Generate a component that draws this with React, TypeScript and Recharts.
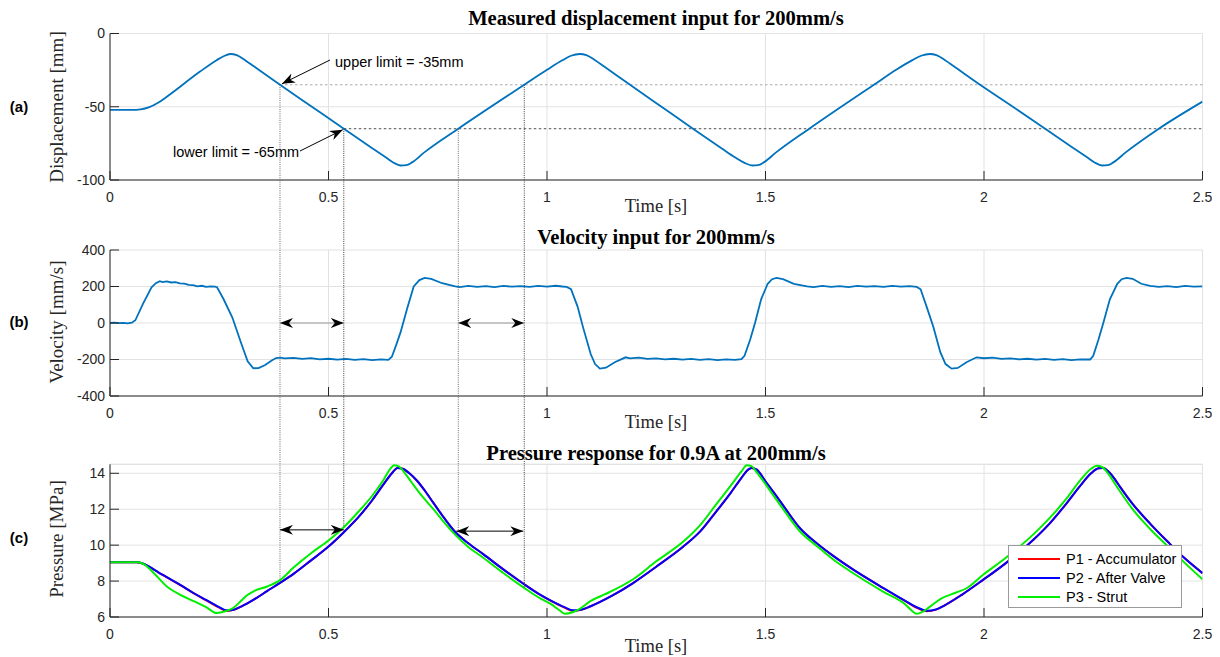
import { LineChart, Line, XAxis, YAxis, CartesianGrid, ReferenceLine, Legend } from 'recharts';

// layout (px)
const W = 1220;
const PLOT_L = 110;
const PLOT_R = 1202.5;
const T_MAX = 2.5;
const PANEL_A = { top: 0, height: 215, plotTop: 33.5, plotBottom: 180 };
const PANEL_B = { top: 215, height: 215, plotTop: 250, plotBottom: 396 };
const PANEL_C = { top: 430, height: 227, plotTop: 464.3, plotBottom: 617 };

const timeTicks = [0, 0.5, 1, 1.5, 2, 2.5];
const dispTicks = [-100, -50, 0];
const velTicks = [-400, -200, 0, 200, 400];
const presTicks = [6, 8, 10, 12, 14];

// [time s, displacement mm]
const displacement: [number, number][] = [
  [0, -52.2], [0.05, -52.2], [0.07, -51.8], [0.09, -50.3], [0.11, -47.3], [0.13, -43.2],
  [0.206, -26], [0.244, -18.2], [0.26, -15.5], [0.275, -14], [0.29, -14.8], [0.31, -18.4],
  [0.33, -22.6], [0.389, -35], [0.462, -50], [0.535, -65], [0.6, -78.3], [0.63, -84.3],
  [0.648, -88], [0.665, -90.1], [0.678, -89.9], [0.692, -87.8], [0.72, -81], [0.797, -65],
  [0.948, -35], [1.0, -24.8], [1.035, -18.3], [1.055, -15.2], [1.075, -14], [1.09, -14.8],
  [1.11, -18.2], [1.13, -22.4], [1.19, -35], [1.262, -50], [1.334, -65], [1.4, -78.5],
  [1.43, -84.5], [1.452, -88.3], [1.47, -90.1], [1.483, -89.9], [1.497, -87.8], [1.525, -81],
  [1.6, -65], [1.748, -35], [1.8, -24.6], [1.836, -18.2], [1.856, -15.2], [1.876, -14],
  [1.891, -14.8], [1.911, -18.2], [1.931, -22.4], [1.991, -35], [2.066, -50], [2.14, -65],
  [2.205, -78.3], [2.235, -84.3], [2.253, -88], [2.27, -90.1], [2.283, -89.9], [2.297, -87.8],
  [2.325, -81], [2.4, -65], [2.5, -46.5],
];

// [time s, velocity mm/s]
const velocity: [number, number][] = [
  [0, 0], [0.01, 2], [0.02, -1], [0.03, 1], [0.04, -2], [0.05, 2], [0.058, 15], [0.076, 108],
  [0.095, 195], [0.105, 218], [0.114, 229], [0.12, 224], [0.13, 228], [0.14, 222], [0.15, 224],
  [0.16, 217], [0.17, 216], [0.18, 209], [0.19, 207], [0.2, 201], [0.21, 204], [0.22, 198],
  [0.23, 201], [0.24, 199], [0.245, 196], [0.26, 130], [0.28, 30], [0.3, -110], [0.315, -210],
  [0.328, -248], [0.34, -247], [0.355, -230], [0.37, -205], [0.38, -192], [0.39, -190],
  [0.4, -194], [0.42, -191], [0.44, -197], [0.46, -193], [0.48, -199], [0.5, -196], [0.52, -201],
  [0.54, -197], [0.56, -202], [0.58, -198], [0.6, -203], [0.62, -199], [0.637, -202],
  [0.645, -185], [0.655, -120], [0.665, -50], [0.68, 80], [0.695, 200], [0.708, 235],
  [0.72, 247], [0.735, 242], [0.76, 218], [0.79, 201], [0.8, 197], [0.82, 203], [0.84, 198],
  [0.86, 202], [0.88, 197], [0.9, 203], [0.92, 199], [0.94, 202], [0.96, 198], [0.98, 203],
  [1.0, 199], [1.02, 204], [1.035, 200], [1.045, 198], [1.055, 185], [1.07, 90], [1.083, -28],
  [1.1, -170], [1.11, -225], [1.121, -250], [1.135, -245], [1.155, -215], [1.18, -188],
  [1.19, -194], [1.21, -190], [1.23, -197], [1.25, -194], [1.27, -199], [1.29, -196],
  [1.31, -201], [1.33, -197], [1.35, -202], [1.37, -198], [1.39, -203], [1.41, -199],
  [1.43, -202], [1.445, -198], [1.452, -180], [1.465, -90], [1.476, 0], [1.49, 130],
  [1.505, 215], [1.515, 240], [1.525, 247], [1.54, 240], [1.565, 215], [1.595, 201],
  [1.61, 197], [1.63, 203], [1.65, 198], [1.67, 202], [1.69, 197], [1.71, 203], [1.73, 199],
  [1.75, 202], [1.77, 198], [1.79, 203], [1.81, 199], [1.83, 202], [1.846, 198], [1.855, 185],
  [1.87, 80], [1.884, -20], [1.9, -160], [1.912, -225], [1.926, -250], [1.94, -246],
  [1.96, -215], [1.983, -188], [2.0, -193], [2.02, -190], [2.04, -197], [2.06, -194],
  [2.08, -199], [2.1, -196], [2.12, -201], [2.14, -197], [2.16, -202], [2.18, -198],
  [2.2, -203], [2.22, -199], [2.243, -200], [2.25, -180], [2.262, -90], [2.273, 0],
  [2.288, 130], [2.305, 215], [2.315, 240], [2.326, 247], [2.34, 242], [2.36, 215],
  [2.38, 203], [2.4, 198], [2.42, 202], [2.44, 197], [2.46, 203], [2.48, 199], [2.5, 201],
];

// [time s, P1 MPa, P2 MPa]
const pressure12: [number, number, number][] = [
  [0, 9.05, 9.05], [0.06, 9.05, 9.05], [0.075, 8.97, 8.98], [0.09, 8.79, 8.8], [0.11, 8.49, 8.5],
  [0.13, 8.21, 8.22], [0.16, 7.79, 7.8], [0.19, 7.34, 7.35], [0.22, 6.93, 6.95], [0.25, 6.52, 6.55],
  [0.267, 6.34, 6.37], [0.285, 6.41, 6.42], [0.3, 6.58, 6.58], [0.33, 6.98, 6.98], [0.36, 7.45, 7.45],
  [0.389, 7.9, 7.9], [0.42, 8.4, 8.4], [0.46, 9.15, 9.15], [0.5, 9.92, 9.92], [0.535, 10.72, 10.72],
  [0.57, 11.6, 11.6], [0.6, 12.5, 12.5], [0.625, 13.35, 13.35], [0.645, 14.0, 14.0], [0.658, 14.3, 14.3],
  [0.67, 14.25, 14.25], [0.685, 14.0, 14.0], [0.702, 13.6, 13.6], [0.72, 13.05, 13.05], [0.74, 12.35, 12.35],
  [0.765, 11.5, 11.5], [0.789, 10.76, 10.76], [0.82, 10.1, 10.1], [0.854, 9.5, 9.5], [0.9, 8.65, 8.65],
  [0.946, 7.85, 7.85], [0.98, 7.3, 7.3], [1.01, 6.88, 6.9], [1.04, 6.52, 6.55], [1.06, 6.34, 6.37],
  [1.08, 6.41, 6.42], [1.1, 6.6, 6.6], [1.15, 7.2, 7.2], [1.197, 7.89, 7.89], [1.25, 8.8, 8.8],
  [1.312, 9.92, 9.92], [1.35, 10.75, 10.75], [1.388, 11.9, 11.9], [1.42, 12.9, 12.9], [1.445, 13.75, 13.75],
  [1.46, 14.2, 14.2], [1.468, 14.3, 14.3], [1.48, 14.2, 14.2], [1.5, 13.55, 13.55], [1.52, 12.9, 12.9],
  [1.545, 12.05, 12.05], [1.579, 10.94, 10.94], [1.62, 10.05, 10.05], [1.655, 9.4, 9.4], [1.7, 8.65, 8.65],
  [1.77, 7.6, 7.61], [1.82, 6.88, 6.9], [1.85, 6.47, 6.5], [1.869, 6.32, 6.35], [1.89, 6.41, 6.42],
  [1.91, 6.65, 6.65], [1.95, 7.25, 7.25], [1.998, 8.07, 8.07], [2.05, 9.0, 9.0], [2.113, 10.3, 10.3],
  [2.15, 11.2, 11.2], [2.189, 12.33, 12.33], [2.22, 13.3, 13.3], [2.245, 14.0, 14.0], [2.262, 14.28, 14.28],
  [2.272, 14.3, 14.3], [2.285, 14.1, 14.1], [2.3, 13.65, 13.65], [2.311, 13.26, 13.26], [2.34, 12.3, 12.3],
  [2.38, 11.2, 11.2], [2.42, 10.2, 10.2], [2.46, 9.25, 9.25], [2.5, 8.44, 8.44],
];

// [time s, P3 MPa]
const pressure3: [number, number][] = [
  [0, 9.05], [0.065, 9.05], [0.08, 8.9], [0.1, 8.45], [0.13, 7.7], [0.16, 7.25], [0.19, 6.9],
  [0.22, 6.55], [0.244, 6.22], [0.26, 6.3], [0.282, 6.5], [0.3, 6.9], [0.313, 7.2], [0.33, 7.45],
  [0.36, 7.7], [0.389, 8.05], [0.42, 8.75], [0.46, 9.55], [0.5, 10.26], [0.535, 11.0], [0.57, 11.9],
  [0.6, 12.75], [0.625, 13.6], [0.64, 14.2], [0.65, 14.45], [0.66, 14.4], [0.675, 14.0], [0.69, 13.5],
  [0.71, 12.85], [0.74, 12.0], [0.765, 11.25], [0.789, 10.6], [0.82, 9.9], [0.854, 9.3], [0.9, 8.45],
  [0.946, 7.65], [0.98, 7.1], [1.01, 6.7], [1.03, 6.35], [1.041, 6.18], [1.06, 6.28], [1.075, 6.45],
  [1.1, 6.9], [1.121, 7.14], [1.14, 7.35], [1.197, 8.1], [1.25, 9.1], [1.312, 10.2], [1.35, 11.1],
  [1.388, 12.3], [1.42, 13.3], [1.445, 14.1], [1.457, 14.45], [1.468, 14.4], [1.48, 14.05],
  [1.5, 13.4], [1.52, 12.7], [1.545, 11.85], [1.579, 10.76], [1.62, 9.9], [1.655, 9.2], [1.7, 8.45],
  [1.77, 7.4], [1.82, 6.7], [1.835, 6.35], [1.846, 6.18], [1.86, 6.3], [1.875, 6.55], [1.9, 7.0],
  [1.935, 7.35], [1.96, 7.6], [1.998, 8.35], [2.05, 9.3], [2.113, 10.6], [2.15, 11.5], [2.189, 12.6],
  [2.22, 13.6], [2.245, 14.25], [2.258, 14.42], [2.27, 14.35], [2.285, 13.95], [2.3, 13.4],
  [2.311, 13.0], [2.34, 12.0], [2.38, 10.9], [2.42, 9.95], [2.46, 9.0], [2.5, 8.1],
];

const dispRows = displacement.map(([t, v]) => ({ t, v }));
const velRows = velocity.map(([t, v]) => ({ t, v }));
const p12Rows = pressure12.map(([t, p1, p2]) => ({ t, p1, p2 }));
const p3Rows = pressure3.map(([t, p3]) => ({ t, p3 }));

const sans = '"Liberation Sans", Arial, sans-serif';
const serif = '"Liberation Serif", "Times New Roman", serif';
const ink = '#262626';
const gridColor = '#e2e2e2';
const tickFont = { fontSize: 14, fill: ink, fontFamily: sans };
const axisStroke = { stroke: ink, strokeWidth: 1 };

const xPx = (t: number) => PLOT_L + (t / T_MAX) * (PLOT_R - PLOT_L);
const yA = (v: number) => PANEL_A.plotTop + (-v / 100) * (PANEL_A.plotBottom - PANEL_A.plotTop);
const yB = (v: number) => PANEL_B.plotTop + ((400 - v) / 800) * (PANEL_B.plotBottom - PANEL_B.plotTop);
const yC = (p: number) => PANEL_C.plotTop + ((14.5 - p) / 8.5) * (PANEL_C.plotBottom - PANEL_C.plotTop);

function timeAxis(height: number) {
  return (
    <XAxis
      type="number"
      dataKey="t"
      domain={[0, T_MAX]}
      ticks={timeTicks}
      interval={0}
      allowDataOverflow
      height={height}
      tick={tickFont}
      axisLine={axisStroke}
      tickLine={axisStroke}
      tickSize={-9}
      tickMargin={21}
    />
  );
}

function PressureLegend({ payload }: any) {
  const items = payload || [];
  return (
    <div
      style={{
        width: 174,
        height: 63,
        boxSizing: 'border-box',
        border: '1px solid #9a9a9a',
        background: '#fff',
        padding: '3px 0 0 9px',
        fontFamily: sans,
        fontSize: 14.5,
        color: '#000',
      }}
    >
      {items.map((it: any) => (
        <div key={it.value} style={{ display: 'flex', alignItems: 'center', height: 19 }}>
          <span style={{ display: 'inline-block', width: 42, borderTop: `2px solid ${it.color}`, marginRight: 6 }} />
          <span>{it.value}</span>
        </div>
      ))}
    </div>
  );
}

export default function App() {
  const tA1 = 0.389;
  const tA2 = 0.535;
  const tB1 = 0.797;
  const tB2 = 0.948;
  return (
    <div style={{ position: 'absolute', left: 0, top: 0, width: W, height: 657, background: '#fff' }}>
      <div style={{ position: 'absolute', left: 0, top: PANEL_A.top }}>
        <LineChart
          width={W}
          height={PANEL_A.height}
          margin={{ top: PANEL_A.plotTop - PANEL_A.top, right: W - PLOT_R, bottom: 0, left: 0 }}
        >
          <CartesianGrid stroke={gridColor} />
          {timeAxis(PANEL_A.height - (PANEL_A.plotBottom - PANEL_A.top))}
          <YAxis
            type="number"
            domain={[-100, 0]}
            ticks={dispTicks}
            interval={0}
            width={PLOT_L}
            tick={tickFont}
            axisLine={axisStroke}
            tickLine={axisStroke}
            tickSize={-9}
            tickMargin={14}
          />
          <ReferenceLine
            segment={[{ x: tA1, y: -35 }, { x: T_MAX, y: -35 }]}
            stroke="#a8a8a8"
            strokeDasharray="2.5 2.5"
          />
          <ReferenceLine
            segment={[{ x: tA2, y: -65 }, { x: T_MAX, y: -65 }]}
            stroke="#4d4d4d"
            strokeDasharray="2.5 2.5"
          />
          <Line
            data={dispRows}
            dataKey="v"
            type="monotone"
            stroke="#0072BD"
            strokeWidth={1.8}
            dot={false}
            isAnimationActive={false}
          />
        </LineChart>
      </div>

      <div style={{ position: 'absolute', left: 0, top: PANEL_B.top }}>
        <LineChart
          width={W}
          height={PANEL_B.height}
          margin={{ top: PANEL_B.plotTop - PANEL_B.top, right: W - PLOT_R, bottom: 0, left: 0 }}
        >
          <CartesianGrid stroke={gridColor} />
          {timeAxis(PANEL_B.height - (PANEL_B.plotBottom - PANEL_B.top))}
          <XAxis
            xAxisId="top"
            orientation="top"
            type="number"
            domain={[0, T_MAX]}
            ticks={timeTicks}
            interval={0}
            height={0}
            tick={false}
            axisLine={axisStroke}
            tickLine={axisStroke}
            tickSize={-9}
          />
          <YAxis
            type="number"
            domain={[-400, 400]}
            ticks={velTicks}
            interval={0}
            width={PLOT_L}
            tick={tickFont}
            axisLine={axisStroke}
            tickLine={axisStroke}
            tickSize={-9}
            tickMargin={14}
          />
          <YAxis
            yAxisId="right"
            orientation="right"
            type="number"
            domain={[-400, 400]}
            ticks={velTicks}
            interval={0}
            width={0}
            tick={false}
            axisLine={axisStroke}
            tickLine={axisStroke}
            tickSize={-9}
          />
          <Line
            data={velRows}
            dataKey="v"
            type="linear"
            stroke="#0072BD"
            strokeWidth={1.8}
            dot={false}
            isAnimationActive={false}
          />
        </LineChart>
      </div>

      <div style={{ position: 'absolute', left: 0, top: PANEL_C.top }}>
        <LineChart
          width={W}
          height={PANEL_C.height}
          margin={{ top: PANEL_C.plotTop - PANEL_C.top, right: W - PLOT_R, bottom: 0, left: 0 }}
        >
          <CartesianGrid stroke={gridColor} />
          {timeAxis(PANEL_C.height - (PANEL_C.plotBottom - PANEL_C.top))}
          <YAxis
            type="number"
            domain={[6, 14.5]}
            ticks={presTicks}
            interval={0}
            width={PLOT_L}
            tick={tickFont}
            axisLine={axisStroke}
            tickLine={axisStroke}
            tickSize={-9}
            tickMargin={14}
          />
          <ReferenceLine y={14.5} stroke={gridColor} />
          <Line
            data={p12Rows}
            dataKey="p1"
            name="P1 - Accumulator"
            type="monotone"
            stroke="#ff0000"
            strokeWidth={2}
            dot={false}
            isAnimationActive={false}
          />
          <Line
            data={p12Rows}
            dataKey="p2"
            name="P2 - After Valve"
            type="monotone"
            stroke="#0000ff"
            strokeWidth={2}
            dot={false}
            isAnimationActive={false}
          />
          <Line
            data={p3Rows}
            dataKey="p3"
            name="P3 - Strut"
            type="monotone"
            stroke="#00ee00"
            strokeWidth={2}
            dot={false}
            isAnimationActive={false}
          />
          <Legend
            layout="vertical"
            align="center"
            verticalAlign="middle"
            content={PressureLegend}
            wrapperStyle={{ left: 1008, top: 545 - PANEL_C.top, width: 174, height: 63 }}
          />
        </LineChart>
      </div>

      {/* titles, axis labels and the annotations that run across panels */}
      <svg
        width={W}
        height={657}
        style={{ position: 'absolute', left: 0, top: 0, pointerEvents: 'none' }}
      >
        <defs>
          <marker
            id="head"
            viewBox="0 0 13 10"
            refX="13"
            refY="5"
            markerWidth="13"
            markerHeight="10"
            markerUnits="userSpaceOnUse"
            orient="auto-start-reverse"
          >
            <path d="M0,0 L13,5 L0,10 L4,5 Z" fill="#000" />
          </marker>
        </defs>

        <g fontFamily={serif} fontWeight="bold" fontSize={20.6} fill="#000" textAnchor="middle">
          <text x={656} y={25}>Measured displacement input for 200mm/s</text>
          <text x={656} y={244}>Velocity input for 200mm/s</text>
          <text x={656} y={460}>Pressure response for 0.9A at 200mm/s</text>
        </g>

        <g fontFamily={serif} fontSize={18.5} fill={ink} textAnchor="middle">
          <text x={656} y={212}>Time [s]</text>
          <text x={656} y={428}>Time [s]</text>
          <text x={656} y={652}>Time [s]</text>
          <text transform="translate(63,107) rotate(-90)" fontSize={19}>Displacement [mm]</text>
          <text transform="translate(63,322) rotate(-90)" fontSize={19}>Velocity [mm/s]</text>
          <text transform="translate(63,539) rotate(-90)" fontSize={19}>Pressure [MPa]</text>
        </g>

        <g fontFamily={sans} fontWeight="bold" fontSize={15} fill="#000" textAnchor="middle">
          <text x={19} y={112}>(a)</text>
          <text x={19} y={327}>(b)</text>
          <text x={19} y={543}>(c)</text>
        </g>

        {/* vertical guides from the limit crossings */}
        <g strokeDasharray="1 1.2" strokeWidth={1}>
          <line x1={xPx(tA1)} y1={yA(-35)} x2={xPx(tA1)} y2={yC(8.05)} stroke="#6a6a6a" />
          <line x1={xPx(tA2)} y1={yA(-65)} x2={xPx(tA2)} y2={yC(11.0)} stroke="#3a3a3a" />
          <line x1={xPx(tB1)} y1={yA(-65)} x2={xPx(tB1)} y2={yC(10.8)} stroke="#6a6a6a" />
          <line x1={xPx(tB2)} y1={yA(-35)} x2={xPx(tB2)} y2={yC(7.6)} stroke="#3a3a3a" />
        </g>

        {/* limit callouts */}
        <g fontFamily={sans} fontSize={14.5} fill="#000">
          <text x={335} y={67}>upper limit = -35mm</text>
          <text x={173} y={157}>lower limit = -65mm</text>
        </g>
        <line x1={330} y1={60} x2={xPx(tA1) + 2} y2={yA(-35) - 1} stroke="#000" strokeWidth={1} markerEnd="url(#head)" />
        <line x1={300} y1={151} x2={xPx(tA2) - 1} y2={yA(-65) + 1} stroke="#000" strokeWidth={1} markerEnd="url(#head)" />

        {/* interval arrows */}
        <line x1={xPx(tA1)} y1={yB(0)} x2={xPx(tA2)} y2={yB(0)} stroke="#9a9a9a" strokeWidth={1}
          markerStart="url(#head)" markerEnd="url(#head)" />
        <line x1={xPx(tB1)} y1={yB(0)} x2={xPx(tB2)} y2={yB(0)} stroke="#9a9a9a" strokeWidth={1}
          markerStart="url(#head)" markerEnd="url(#head)" />
        <line x1={xPx(tA1)} y1={yC(10.85)} x2={xPx(tA2)} y2={yC(10.85)} stroke="#000" strokeWidth={1}
          markerStart="url(#head)" markerEnd="url(#head)" />
        <line x1={xPx(tB1) - 2} y1={yC(10.78)} x2={xPx(tB2) - 1} y2={yC(10.78)} stroke="#000" strokeWidth={1}
          markerStart="url(#head)" markerEnd="url(#head)" />
      </svg>
    </div>
  );
}
